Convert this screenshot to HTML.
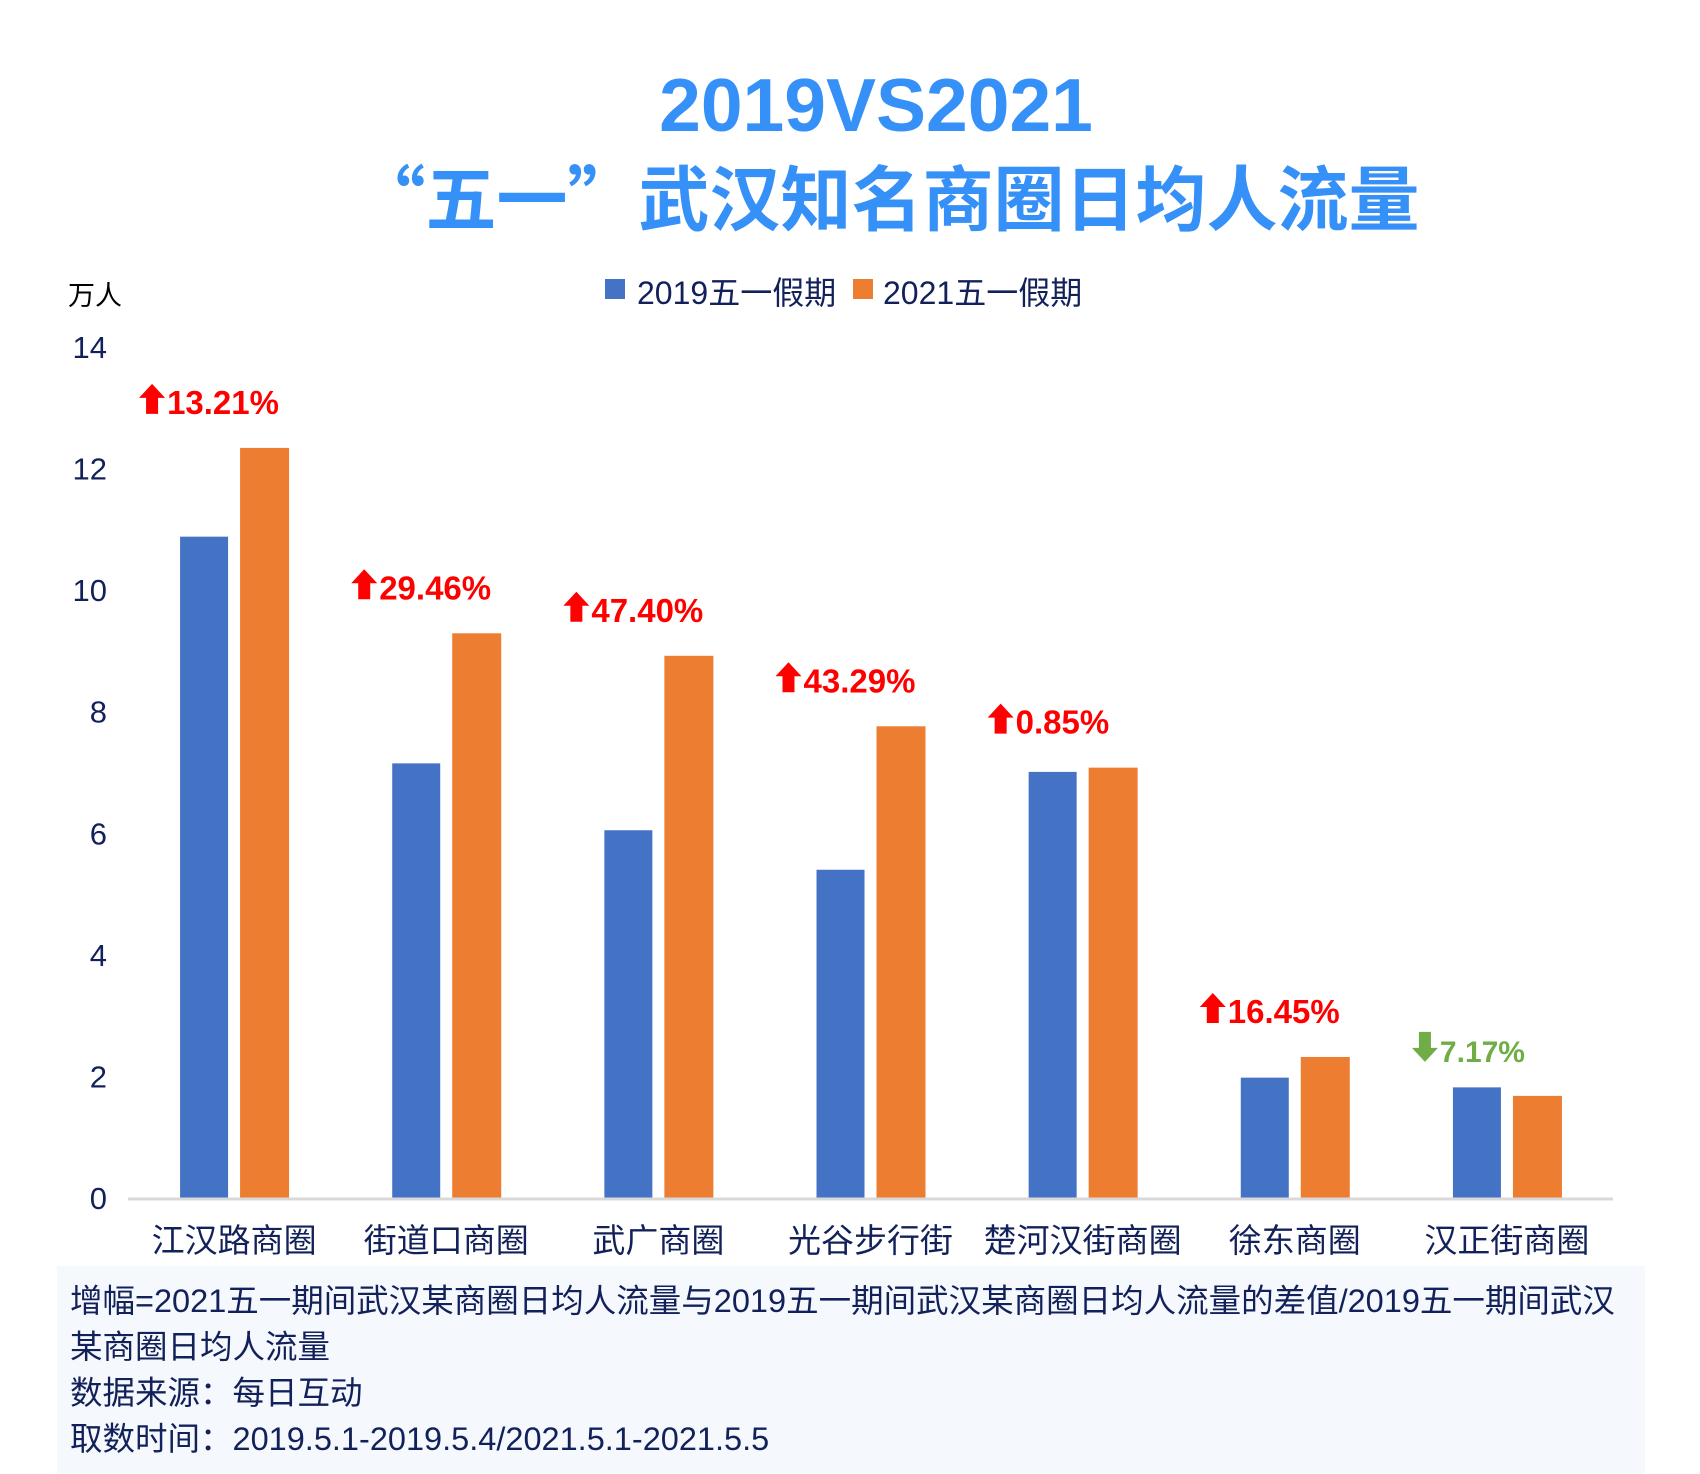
<!DOCTYPE html>
<html><head><meta charset="utf-8">
<style>
html,body{margin:0;padding:0;background:#fff;}
body{width:1700px;height:1474px;position:relative;overflow:hidden;font-family:"Liberation Sans","Noto Sans CJK SC",sans-serif;}
.t{position:absolute;white-space:nowrap;}
</style></head>
<body>
<div class="t" style="left:0;width:1752px;text-align:center;top:62px;font-size:75px;font-weight:bold;color:#3590f8;">2019VS2021</div>
<div class="t" style="left:0;width:1774px;text-align:center;top:144px;font-size:71px;font-weight:bold;color:#3590f8;font-family:'Noto Sans CJK SC',sans-serif;">“五一”武汉知名商圈日均人流量</div>
<div>
<div class="t" style="left:605px;top:279px;width:20px;height:20px;background:#4472c4;"></div>
<div class="t" style="left:637px;top:268px;font-size:32px;color:#13215a;">2019五一假期</div>
<div class="t" style="left:853px;top:279px;width:20px;height:20px;background:#ed7d31;"></div>
<div class="t" style="left:883px;top:268px;font-size:32px;color:#13215a;">2021五一假期</div>
</div>
<div class="t" style="left:68px;top:274px;font-size:27px;color:#000;">万人</div>
<svg id="chart" width="1700" height="1474" style="position:absolute;left:0;top:0;"></svg>
<div style="position:absolute;left:57px;top:1266px;width:1588px;height:208px;background:#f5f9fd;"></div>
<div class="t" style="left:70px;top:1278px;font-size:32.5px;color:#13215a;line-height:46px;">增幅=2021五一期间武汉某商圈日均人流量与2019五一期间武汉某商圈日均人流量的差值/2019五一期间武汉<br>某商圈日均人流量</div>
<div class="t" style="left:70px;top:1370px;font-size:32.5px;color:#13215a;line-height:46px;">数据来源：每日互动</div>
<div class="t" style="left:70px;top:1416px;font-size:32.5px;color:#13215a;line-height:46px;">取数时间：2019.5.1-2019.5.4/2021.5.1-2021.5.5</div>
<script>
const categories=["江汉路商圈","街道口商圈","武广商圈","光谷步行街","楚河汉街商圈","徐东商圈","汉正街商圈"];
const values2019=[10.88,7.15,6.05,5.40,7.01,1.98,1.82];
const values2021=[12.34,9.29,8.92,7.76,7.08,2.32,1.68];
const changeLabels=["13.21%","29.46%","47.40%","43.29%","0.85%","16.45%","7.17%"];
const yTicks=[0,2,4,6,8,10,12,14];
const NS="http://www.w3.org/2000/svg";
const svg=document.getElementById('chart');
const x0=128,x1=1613,y0=1198,yTop=347,yMax=14;
const band=(x1-x0)/categories.length;
function y(v){return y0-(v/yMax)*(y0-yTop);}
function xc(i){return x0+band*(i+0.5);}
function mk(tag,attrs){const e=document.createElementNS(NS,tag);for(const k in attrs)e.setAttribute(k,attrs[k]);svg.appendChild(e);return e;}
yTicks.forEach(t=>{
  const e=mk('text',{x:107,y:y(t)+11,'text-anchor':'end','font-size':31,fill:'#13215a','font-family':'Liberation Sans, sans-serif'});
  e.textContent=t;
  
  
});
categories.forEach((c,i)=>{
  const cx=xc(i);
  const b=mk('rect',{x:cx-54,y:y(values2019[i]),width:48,height:y0-y(values2019[i]),fill:'#4472c4'});
  
  
  const o=mk('rect',{x:cx+6,y:y(values2021[i]),width:49,height:y0-y(values2021[i]),fill:'#ed7d31'});
  
  
  const l=mk('text',{x:cx,y:1252,'text-anchor':'middle','font-size':33,fill:'#13215a','font-family':'Noto Sans CJK SC, sans-serif'});
  l.textContent=c;
  
  
  const up=values2021[i]>=values2019[i];
  const col=up?'#ff0000':'#70ad47';
  const ay=y(values2021[i])-34;
  const g=document.createElementNS(NS,'g');svg.appendChild(g);
  
  
  const ax=cx-82;
  const p=document.createElementNS(NS,'path');
  p.setAttribute('d',up?`M${ax} ${ay-30} L${ax+13} ${ay-16} L${ax+6} ${ay-16} L${ax+6} ${ay} L${ax-6} ${ay} L${ax-6} ${ay-16} L${ax-13} ${ay-16} Z`
                     :`M${ax} ${ay} L${ax+13} ${ay-14} L${ax+6} ${ay-14} L${ax+6} ${ay-30} L${ax-6} ${ay-30} L${ax-6} ${ay-14} L${ax-13} ${ay-14} Z`);
  p.setAttribute('fill',col);g.appendChild(p);
  const tx=document.createElementNS(NS,'text');
  tx.setAttribute('x',ax+15);tx.setAttribute('y',ay);tx.setAttribute('font-size',up?33:30);
  tx.setAttribute('font-weight','bold');tx.setAttribute('fill',col);tx.setAttribute('font-family','Liberation Sans, sans-serif');
  tx.textContent=changeLabels[i];g.appendChild(tx);
});
const ax=mk('line',{x1:x0,y1:y0+1,x2:x1,y2:y0+1,stroke:'#d9d9d9','stroke-width':3});


</script>
</body></html>
